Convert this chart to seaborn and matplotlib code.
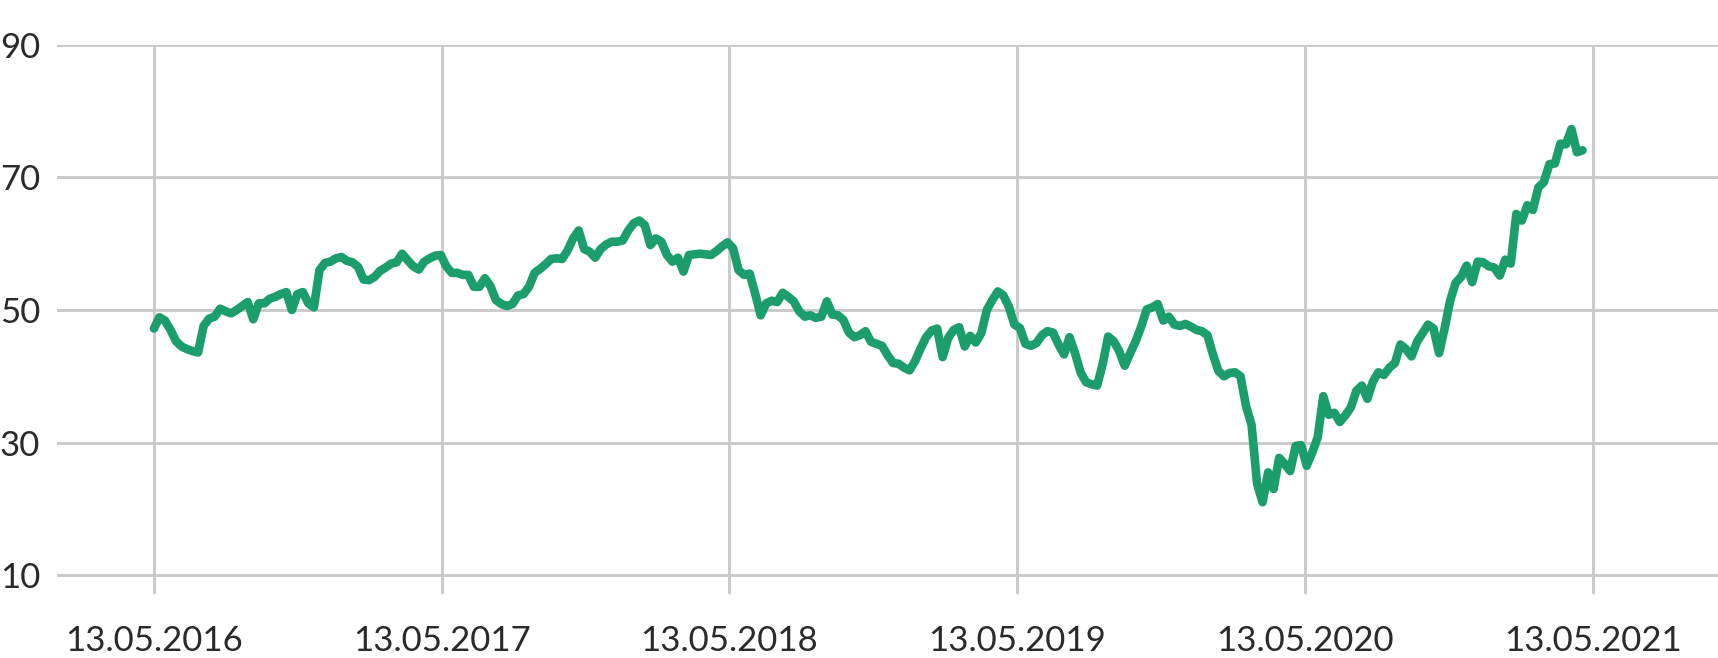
import pandas as pd
import matplotlib.pyplot as plt
import matplotlib.dates as mdates
import seaborn as sns

# --- weekly closing values (one list per year) ---
vals_2016 = [47.2, 48.9, 48.4, 47.0, 45.3, 44.5, 44.1, 43.8, 43.6, 47.6,
             48.7, 49.0, 50.2, 49.8, 49.5, 50.0, 50.6, 51.2, 48.6, 51.0,
             51.0, 51.7, 52.0, 52.4, 52.7, 50.0, 52.4, 52.7, 51.0, 50.4,
             56.0, 57.1, 57.3, 57.8, 58.0, 57.4, 57.2, 56.5, 54.6, 54.5,
             55.0, 55.9, 56.4, 57.0, 57.2, 58.5, 57.5, 56.6, 56.1, 57.3,
             57.8, 58.2]
vals_2017 = [58.3, 56.6, 55.6, 55.6, 55.3, 55.3, 53.5, 53.5, 54.8, 53.6,
             51.5, 50.9, 50.6, 50.9, 52.2, 52.4, 53.5, 55.6, 56.2, 56.9,
             57.7, 57.8, 57.7, 59.0, 60.8, 62.0, 59.2, 58.8, 57.9, 59.2,
             59.9, 60.3, 60.3, 60.5, 62.0, 63.1, 63.5, 62.8, 59.8, 60.8,
             60.3, 58.3, 57.3, 57.9, 55.8, 58.3, 58.4, 58.5, 58.4, 58.3,
             58.9, 59.6]
vals_2018 = [60.2, 59.3, 56.0, 55.3, 55.5, 52.5, 49.2, 51.0, 51.4, 51.2,
             52.6, 52.0, 51.3, 49.8, 49.0, 49.2, 48.8, 49.0, 51.3, 49.3,
             49.2, 48.5, 46.6, 45.9, 46.2, 46.8, 45.2, 44.9, 44.6, 43.2,
             42.0, 41.9, 41.3, 40.9, 42.3, 44.2, 45.9, 46.9, 47.2, 42.9,
             45.8, 47.0, 47.4, 44.5, 46.1, 45.1, 46.5, 50.0, 51.5, 52.8,
             52.2, 50.5]
vals_2019 = [47.8, 47.3, 44.9, 44.6, 45.0, 46.2, 46.8, 46.6, 44.8, 43.3,
             45.9, 43.5, 40.6, 39.1, 38.8, 38.6, 41.8, 46.0, 45.3, 43.8,
             41.6, 43.5, 45.3, 47.5, 50.1, 50.4, 50.9, 48.4, 49.0, 47.8,
             47.6, 47.9, 47.5, 47.0, 46.8, 46.2, 43.3, 40.8, 40.0, 40.5,
             40.6, 40.0, 35.5, 32.7, 23.8, 21.0, 25.5, 23.0, 27.7, 26.8,
             25.7, 29.5]
vals_2020 = [29.6, 26.5, 28.5, 30.8, 37.0, 34.2, 34.5, 33.1, 34.1, 35.3,
             37.8, 38.6, 36.6, 39.2, 40.6, 40.2, 41.3, 42.0, 44.8, 44.1,
             43.0, 45.2, 46.5, 47.8, 47.2, 43.5, 47.2, 51.4, 54.1, 55.0,
             56.7, 54.2, 57.3, 57.2, 56.6, 56.4, 55.2, 57.6, 57.0, 64.5,
             63.5, 65.8, 65.1, 68.5, 69.3, 72.0, 72.1, 75.1, 75.0, 77.3,
             73.8, 74.1]

values = vals_2016 + vals_2017 + vals_2018 + vals_2019 + vals_2020
dates = pd.date_range('2016-05-13', periods=len(values), freq='7D')
df = pd.DataFrame({'date': dates, 'value': values})

tick_dates = pd.to_datetime(['2016-05-13', '2017-05-13', '2018-05-13',
                             '2019-05-13', '2020-05-13', '2021-05-13'])
y_ticks = [10, 30, 50, 70, 90]

# --- style ---
sns.set_style('white')
plt.rcParams['font.family'] = ['Lato', 'DejaVu Sans']

fig = plt.figure(figsize=(17.18, 6.58), dpi=100)
ax = fig.add_axes([0.0332, 0.0973, 0.9668, 0.8345])

sns.lineplot(data=df, x='date', y='value', ax=ax, color='#1b9e6b',
             linewidth=6.2, solid_joinstyle='round', solid_capstyle='round')

ax.set_xlim(pd.Timestamp('2016-01-11'), pd.Timestamp('2021-10-19'))
ax.set_ylim(7.16, 90)
ax.set_xticks(tick_dates)
ax.xaxis.set_major_formatter(mdates.DateFormatter('%d.%m.%Y'))
ax.set_yticks(y_ticks)

ax.grid(True, color='#c8c8c8', linewidth=2.0)
ax.set_axisbelow(True)
for s in ax.spines.values():
    s.set_visible(False)

ax.tick_params(axis='both', length=0, labelsize=25, labelcolor='#2a2a2a')
ax.tick_params(axis='y', pad=12)
ax.tick_params(axis='x', pad=22)
ax.set_xlabel('')
ax.set_ylabel('')

fig.savefig('out.png', dpi=100)
